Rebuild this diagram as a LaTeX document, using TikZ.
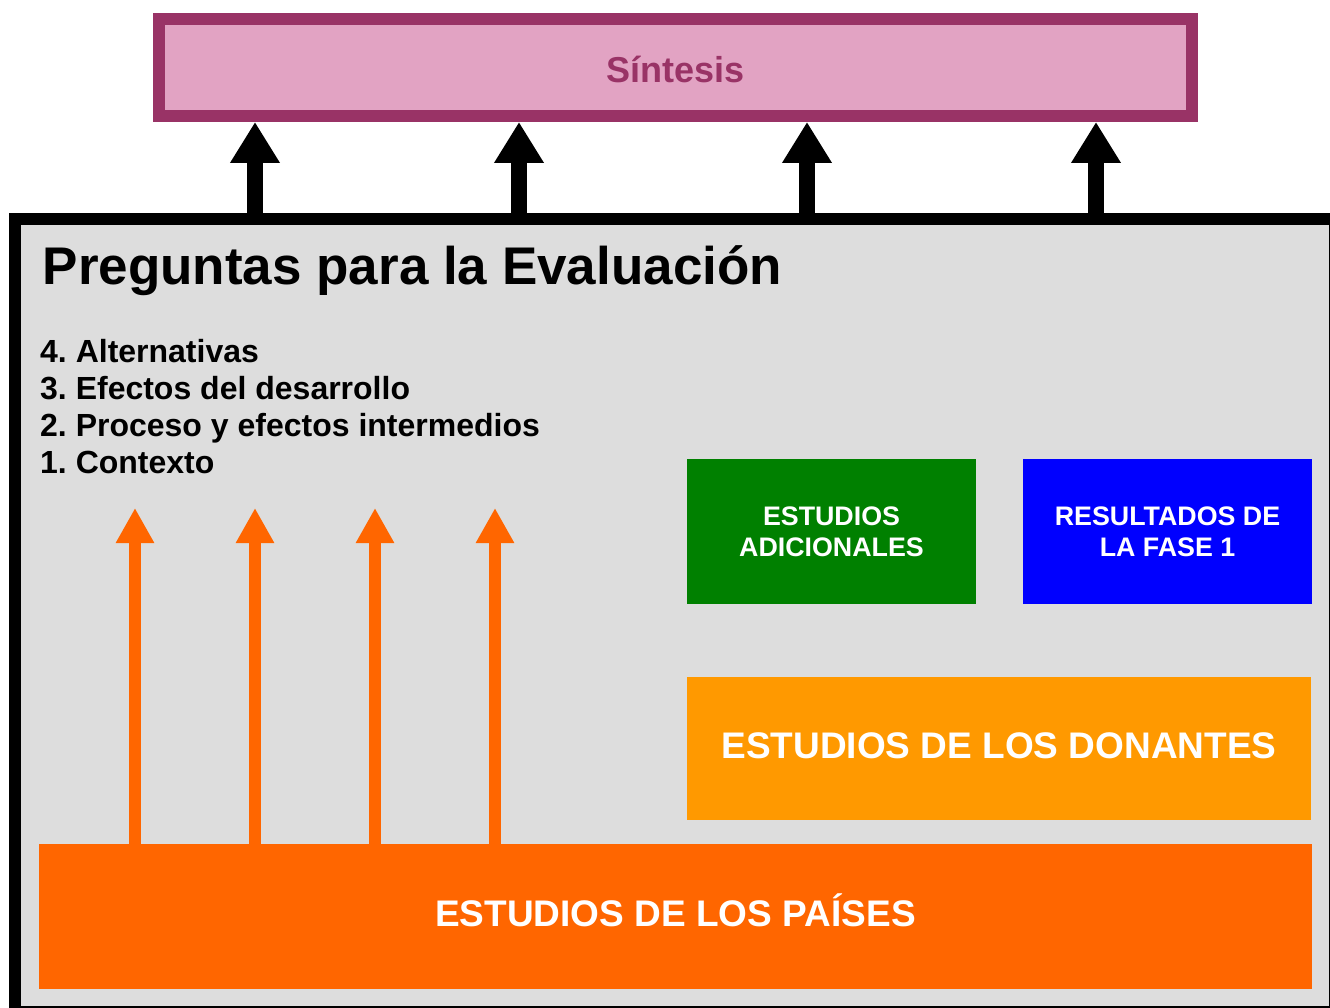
\documentclass[tikz,border=0pt]{standalone}
\usepackage{fontspec}
\setmainfont{Liberation Sans}
\usetikzlibrary{arrows.meta}
\frenchspacing

\definecolor{rosa}{HTML}{E2A3C3}
\definecolor{magenta}{HTML}{993366}
\definecolor{grisfondo}{HTML}{DDDDDD}
\definecolor{verde}{HTML}{008000}
\definecolor{azul}{HTML}{0000FF}
\definecolor{naranja}{HTML}{FF9900}
\definecolor{naranjaosc}{HTML}{FF6600}

\tikzset{
  caja/.style={inner sep=0pt, outer sep=0pt, text=white, font=\bfseries, align=center},
  flechanegra/.style={line width=16pt, -{Triangle[width=47pt,length=41pt]}},
  flechanaranja/.style={line width=12pt, naranjaosc, -{Triangle[width=36pt,length=35pt]}},
}

\begin{document}
\begin{tikzpicture}[x=1pt, y=-1pt]
  \useasboundingbox (0,0) rectangle (1330,1008);
  \fill[white] (0,0) rectangle (1330,1008);
  \clip (0,0) rectangle (1330,1008);

  % marco grande
  \node[draw, line width=12pt, fill=grisfondo, inner sep=0pt,
        minimum width=1320pt, minimum height=793pt] (pregs) at (675,615.5) {};
  \node[anchor=base west, inner sep=0pt, font=\bfseries\fontsize{53}{60}\selectfont]
    (titulo) at (42.5,285) {Preguntas para la Evaluación};
  \foreach \n/\txt [count=\i] in {4/Alternativas, 3/Efectos del desarrollo,
      2/Proceso y efectos intermedios, 1/Contexto}
    \node[anchor=base west, inner sep=0pt, font=\bfseries\fontsize{32}{37}\selectfont]
      (q\n) at (40,325+37*\i) {\n. \txt};

  % sintesis
  \node[draw=magenta, line width=12pt, fill=rosa, inner sep=0pt,
        minimum width=1033pt, minimum height=97pt, text height=30pt,
        text=magenta, font=\bfseries\fontsize{36}{40}\selectfont] (sintesis) at (675.5,67.5) {Síntesis};
  \foreach \x in {255,519,807,1096}
    \draw[flechanegra] (pregs.north -| \x,0) -- (sintesis.south -| \x,0);

  % estudios
  \node[caja, fill=verde, minimum width=289pt, minimum height=145pt,
        font=\bfseries\fontsize{26.8}{31}\selectfont] (adicional) at (831.5,531.5) {ESTUDIOS\\ADICIONALES};
  \node[caja, fill=azul, minimum width=289pt, minimum height=145pt,
        font=\bfseries\fontsize{26.8}{31}\selectfont] (fase) at (1167.5,531.5) {RESULTADOS DE\\LA FASE 1};
  \node[caja, fill=naranja, minimum width=624pt, minimum height=143pt, text depth=6pt,
        font=\bfseries\fontsize{37}{42}\selectfont] (donantes) at (999,748.5) {ESTUDIOS DE LOS DONANTES};
  \node[caja, fill=naranjaosc, minimum width=1273pt, minimum height=145pt, text depth=12pt,
        font=\bfseries\fontsize{37}{42}\selectfont] (paises) at (675.5,916.5) {ESTUDIOS DE LOS PAÍSES};

  \foreach \x [count=\i] in {135,255,375,495} {
    \coordinate (punta\i) at (\x,508);
    \draw[flechanaranja] (paises.north -| punta\i) -- (punta\i);
  }
\end{tikzpicture}
\end{document}
